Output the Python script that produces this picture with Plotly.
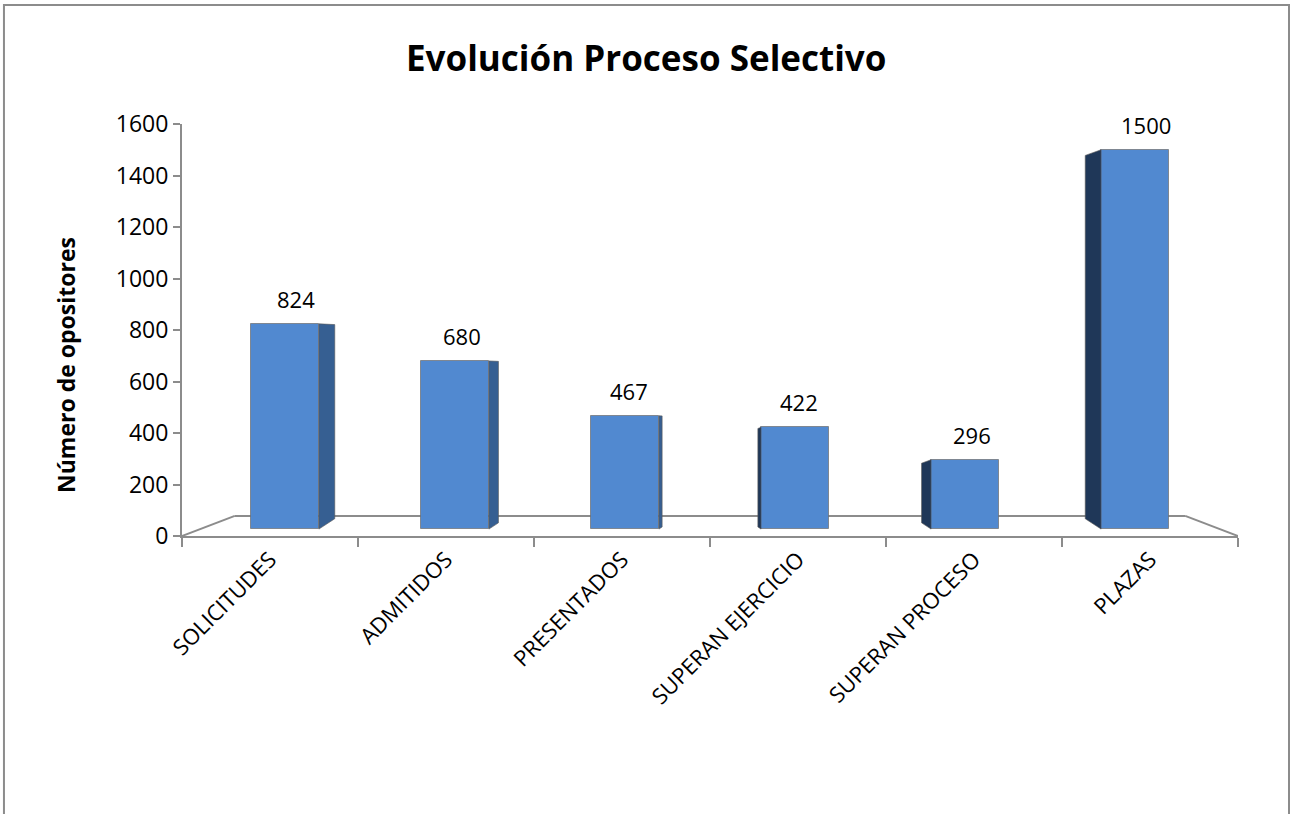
import plotly.graph_objects as go

categories = ["SOLICITUDES", "ADMITIDOS", "PRESENTADOS", "SUPERAN EJERCICIO", "SUPERAN PROCESO", "PLAZAS"]
values = [824, 680, 467, 422, 296, 1500]
y_ticks = [0, 200, 400, 600, 800, 1000, 1200, 1400, 1600]

# style / 3D-effect constants
FONT = "Open Sans"
FRONT = "#5189d0"
SIDE_R = "#365f92"
SIDE_L = "#1f3758"
AXIS_COL = "#8c8c8c"
PERSP = 0.966        # bars sit slightly back -> closer to centre
BAR_W = 0.386
BASE = 27            # bar foot sits a bit behind the front floor edge
SIDE_K = 0.036
FLOOR_DEPTH = 78     # floor back edge height (axis units)
FLOOR_INSET = 0.30   # floor back edge inset (category units)

n = len(categories)
mid = (n - 1) / 2
xs = [mid + (i - mid) * PERSP for i in range(n)]

fig = go.Figure()

# side faces
for i, (xc, v) in enumerate(zip(xs, values)):
    d = 1 if i < mid else -1
    r = abs(i - mid) / mid
    s = SIDE_K * abs(i - mid)
    xe = xc + d * BAR_W / 2
    xb = xe + d * s
    fig.add_trace(go.Scatter(
        x=[xe, xb, xb, xe, xe],
        y=[BASE, BASE + 40 * r, v - (22 if d < 0 else 3) * r, v, BASE],
        fill="toself", mode="lines",
        line=dict(color="rgba(90,90,90,0.6)", width=1),
        fillcolor=SIDE_R if d > 0 else SIDE_L,
        hoverinfo="skip", showlegend=False))

# front faces
fig.add_trace(go.Bar(
    x=xs, y=[v - BASE for v in values], base=BASE, width=BAR_W,
    marker=dict(color=FRONT, line=dict(color="rgba(110,110,110,0.7)", width=1)),
    showlegend=False, hovertext=categories, customdata=values,
    hovertemplate="%{hovertext}: %{customdata}<extra></extra>"))

# data labels
for i, (xc, v) in enumerate(zip(xs, values)):
    fig.add_annotation(x=xc, y=v, text=str(v), showarrow=False,
                       yshift=25, xshift=2 + 3.5 * abs(i - mid),
                       font=dict(family=FONT, size=22, color="#000"))

# floor (3D base)
fx0, fx1 = -0.5, n - 0.5
floor = [
    (fx0, 0, fx0 + FLOOR_INSET, FLOOR_DEPTH),
    (fx0 + FLOOR_INSET, FLOOR_DEPTH, fx1 - FLOOR_INSET, FLOOR_DEPTH),
    (fx1 - FLOOR_INSET, FLOOR_DEPTH, fx1, 0),
]
for a, b, c, e in floor:
    fig.add_shape(type="line", x0=a, y0=b, x1=c, y1=e, xref="x", yref="y",
                  line=dict(color=AXIS_COL, width=2), layer="below")

# outer border
fig.add_shape(type="rect", xref="paper", yref="paper",
              x0=-0.1686, x1=1.0483, y0=-0.72, y1=1.2888,
              line=dict(color=AXIS_COL, width=2))

# title
fig.add_annotation(xref="paper", yref="paper", x=0.4394, y=1.1626,
                   text="<b>Evolución Proceso Selectivo</b>", showarrow=False,
                   xanchor="center", yanchor="middle",
                   font=dict(family=FONT, size=35, color="#000"))
# y title
fig.add_annotation(xref="paper", yref="paper", x=(66 - 182) / 1056, y=(536 - 365) / 412,
                   text="<b>Número de opositores</b>", showarrow=False, textangle=-90,
                   xanchor="center", yanchor="middle",
                   font=dict(family=FONT, size=23, color="#000"))

fig.update_layout(
    width=1291, height=814,
    margin=dict(l=182, r=53, t=124, b=278),
    paper_bgcolor="white", plot_bgcolor="white",
    font=dict(family=FONT, color="#000"),
    bargap=0,
    xaxis=dict(range=[-0.5, n - 0.5], tickvals=list(range(n)), ticktext=categories,
               tickangle=-45, ticks="", showgrid=False, zeroline=False,
               showline=True, linecolor=AXIS_COL, linewidth=2,
               tickfont=dict(family=FONT, size=22, color="#000"),
               minor=dict(tickvals=[k - 0.5 for k in range(n + 1)], ticks="outside",
                          ticklen=9, tickcolor=AXIS_COL, tickwidth=2, showgrid=False),
               fixedrange=True),
    yaxis=dict(range=[0, 1600], tickvals=y_ticks, ticks="outside", ticklen=7,
               tickcolor=AXIS_COL, tickwidth=2, showgrid=False, zeroline=False,
               showline=True, linecolor=AXIS_COL, linewidth=2,
               tickfont=dict(family=FONT, size=23, color="#000"), fixedrange=True),
)

fig.write_html("out.html", config={"displayModeBar": False},
               post_script="document.body.style.margin='0';document.body.style.overflow='hidden';")
